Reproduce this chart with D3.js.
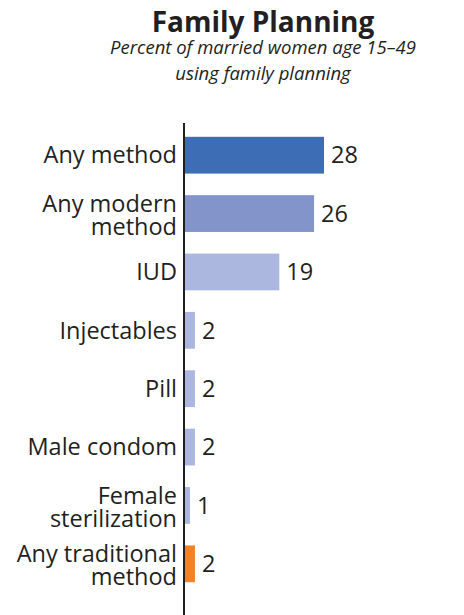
<!DOCTYPE html>
<html lang="en">
<head>
    <meta charset="UTF-8">
    <title>Family Planning</title>
    <script src="https://d3js.org/d3.v7.min.js"></script>
    <style>
        body { margin: 0; background: #fff; }
        text { font-family: "Open Sans", "Noto Sans", sans-serif; fill: #231f20; }
        .title { font-size: 28px; font-weight: bold; text-anchor: middle; }
        .subtitle { font-size: 18.5px; font-style: italic; text-anchor: middle; }
        .label { font-size: 23.5px; text-anchor: end; }
        .value { font-size: 23.5px; }
    </style>
</head>
<body>
    <svg id="chart" width="464" height="615"></svg>
    <script>
        // Data
        var categories = [
            ["Any method"],
            ["Any modern", "method"],
            ["IUD"],
            ["Injectables"],
            ["Pill"],
            ["Male condom"],
            ["Female", "sterilization"],
            ["Any traditional", "method"]
        ];
        var values = [28, 26, 19, 2, 2, 2, 1, 2];
        var barColors = ["#3d6db4", "#8394cb", "#abb7df", "#abb7df", "#abb7df", "#abb7df", "#abb7df", "#f08229"];

        var axisX = 184;
        var svg = d3.select("#chart");

        // Scales
        var y = d3.scaleBand()
            .domain(d3.range(values.length))
            .range([126, 593])
            .paddingInner(0.37)
            .paddingOuter(0.185);

        var x = d3.scaleLinear()
            .domain([0, 28])
            .range([axisX + 1, axisX + 140]);

        // Title
        svg.append("text")
            .attr("class", "title")
            .attr("x", 263)
            .attr("y", 32)
            .text("Family Planning");

        svg.append("text")
            .attr("class", "subtitle")
            .attr("x", 263)
            .attr("y", 54)
            .text("Percent of married women age 15\u201349");

        svg.append("text")
            .attr("class", "subtitle")
            .attr("x", 263)
            .attr("y", 80)
            .text("using family planning");

        // Bars
        svg.selectAll(".bar")
            .data(values)
            .enter().append("rect")
            .attr("class", "bar")
            .attr("x", x(0))
            .attr("y", function(d, i) { return y(i); })
            .attr("width", function(d) { return x(d) - x(0); })
            .attr("height", y.bandwidth())
            .attr("fill", function(d, i) { return barColors[i]; });

        // Value labels
        svg.selectAll(".value")
            .data(values)
            .enter().append("text")
            .attr("class", "value")
            .attr("x", function(d) { return x(d) + 7; })
            .attr("y", function(d, i) { return y(i) + y.bandwidth() / 2; })
            .attr("dy", "0.35em")
            .text(function(d) { return d; });

        // Category labels (one or two lines)
        var labels = svg.selectAll(".label")
            .data(categories)
            .enter().append("text")
            .attr("class", "label")
            .attr("x", axisX - 7)
            .attr("y", function(d, i) { return y(i) + y.bandwidth() / 2; });

        labels.selectAll("tspan")
            .data(function(d) { return d; })
            .enter().append("tspan")
            .attr("x", axisX - 7)
            .attr("dy", function(t, j, nodes) {
                if (j > 0) return "0.98em";
                return nodes.length > 1 ? "-0.08em" : "0.35em";
            })
            .text(function(t) { return t; });

        // Axis line
        svg.append("line")
            .attr("x1", axisX)
            .attr("x2", axisX)
            .attr("y1", 123)
            .attr("y2", 615)
            .attr("stroke", "#231f20")
            .attr("stroke-width", 2);
    </script>
</body>
</html>
